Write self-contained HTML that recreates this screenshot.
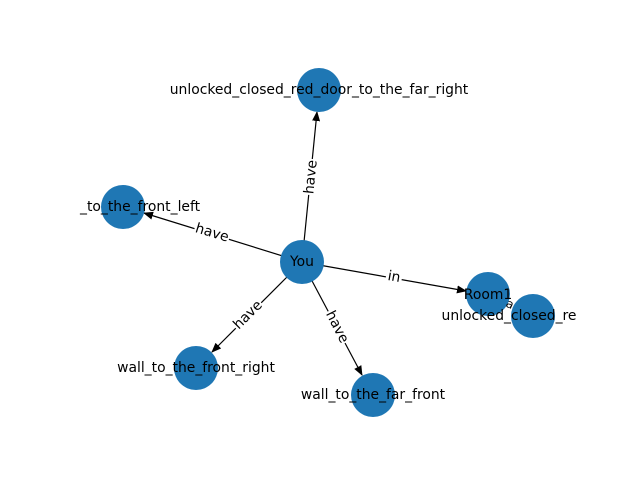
<!DOCTYPE html>
<html><head><meta charset="utf-8"><style>body{margin:0;background:#fff}svg{display:block}</style></head><body>
<svg width="640" height="480" xmlns="http://www.w3.org/2000/svg" font-family="'DejaVu Sans','Liberation Sans',sans-serif" font-size="13.9">
<defs><marker id="a" markerWidth="10" markerHeight="8" refX="9" refY="4" orient="auto" markerUnits="userSpaceOnUse"><path d="M0,0 L10,4 L0,8 z" fill="#000"/></marker></defs>
<g stroke="#000" stroke-width="1.2">
<line x1="302" y1="262" x2="317" y2="112" marker-end="url(#a)"/>
<line x1="302" y1="262" x2="144" y2="213" marker-end="url(#a)"/>
<line x1="302" y1="262" x2="466" y2="291" marker-end="url(#a)"/>
<line x1="302" y1="262" x2="212" y2="352" marker-end="url(#a)"/>
<line x1="302" y1="262" x2="362" y2="375" marker-end="url(#a)"/>
</g>
<g fill="#1f77b4">
<circle cx="319" cy="90" r="22"/>
<circle cx="123" cy="207" r="22"/>
<circle cx="302" cy="262" r="22"/>
<circle cx="488" cy="294" r="22"/>
<circle cx="533" cy="316" r="22"/>
<circle cx="196" cy="368" r="22"/>
<circle cx="373" cy="395" r="22"/>
</g>
<g text-anchor="middle" dominant-baseline="central" fill="#000">
<text x="319" y="90">unlocked_closed_red_door_to_the_far_right</text>
<text x="80" y="207" text-anchor="start">_to_the_front_left</text>
<text x="302" y="262">You</text>
<text x="488" y="295">Room1</text>
<text x="509" y="316">unlocked_closed_re</text>
<text x="196" y="368">wall_to_the_front_right</text>
<text x="373" y="395">wall_to_the_far_front</text>
</g>
<g text-anchor="middle" dominant-baseline="central">
<g transform="translate(311,177) rotate(-84)"><rect x="-18" y="-8" width="36" height="16" fill="#fff"/><text>have</text></g>
<g transform="translate(212,233) rotate(17)"><rect x="-18" y="-8" width="36" height="16" fill="#fff"/><text>have</text></g>
<g transform="translate(394,277) rotate(10)"><rect x="-8" y="-8" width="16" height="16" fill="#fff"/><text>in</text></g>
<g transform="translate(248,315) rotate(-45)"><rect x="-18" y="-8" width="36" height="16" fill="#fff"/><text>have</text></g>
<g transform="translate(337,327) rotate(63)"><rect x="-18" y="-8" width="36" height="16" fill="#fff"/><text>have</text></g>
<g transform="translate(510,304) rotate(25)"><text font-size="12">a</text></g>
</g>
</svg>
</body></html>
